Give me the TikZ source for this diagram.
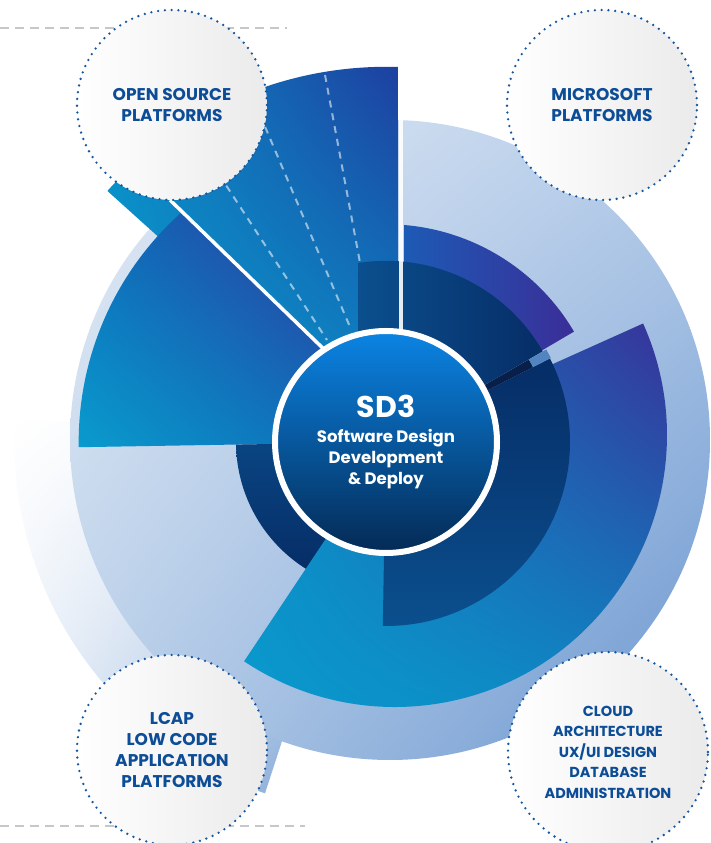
\documentclass[tikz,border=0pt]{standalone}
\usepackage{fontspec}
\setmainfont{Poppins}
\usetikzlibrary{positioning,shadings}

\definecolor{labelblue}{HTML}{0D4D97}
\definecolor{dotblue}{HTML}{1456A0}
\definecolor{cyanA}{HTML}{0A9BCD}
\definecolor{cyanB}{HTML}{0A8CC6}
\definecolor{blueA}{HTML}{0A6FBB}
\definecolor{indigoA}{HTML}{1E3FA0}
\definecolor{indigoB}{HTML}{3A2E98}
\definecolor{midblue}{HTML}{1A5FB8}
\definecolor{navyA}{HTML}{062D66}
\definecolor{navyB}{HTML}{0B4F8E}
\definecolor{navyC}{HTML}{081F4A}
\definecolor{paleA}{HTML}{E4ECF6}
\definecolor{paleB}{HTML}{B5CCE9}
\definecolor{paleC}{HTML}{B9CFE9}
\definecolor{paleD}{HTML}{6A96CF}
\definecolor{hubtop}{HTML}{0B84E4}
\definecolor{hubmid}{HTML}{0867C4}
\definecolor{hubbot}{HTML}{042A55}

\begin{document}
\begin{tikzpicture}[x=1pt,y=1pt,
% Label circles
    platform/.style={circle,draw=dotblue,line width=2.6pt,
		dash pattern=on 0pt off 6.8pt,line cap=round,
		left color=white,right color=black!8,minimum size=190pt,
		inner sep=0pt,text=labelblue,align=center,
		font=\bfseries\fontsize{17}{21}\selectfont},
% Centre hub
    hub/.style={circle,draw=white,line width=6pt,minimum size=222pt,
		top color=hubtop,middle color=hubmid,bottom color=hubbot,
		text=white,align=center,font=\bfseries\fontsize{16.5}{21}\selectfont},
    gapline/.style={white,line width=3.5pt},
    dashline/.style={white,opacity=.55,line width=2pt,dash pattern=on 7pt off 6pt},
    rule/.style={black!22,line width=1.5pt,dash pattern=on 9pt off 6pt},
    quad/.style={shading=bilinear interpolation}
    ]
   \useasboundingbox (0,0) rectangle (711,843);
   \clip (0,0) rectangle (711,843);
   \fill[white] (0,0) rectangle (711,843);
   \coordinate (C) at (386,401);
   \coordinate (Cb) at (395,408);
   \coordinate (Cl) at (390,403);

%%% Guide rules
   \coordinate (r1a) at (0,815);  \coordinate (r1b) at (287,815);
   \coordinate (r2a) at (0,17);   \coordinate (r2b) at (305,17);
   \draw[rule] (r1a) -- (r1b);
   \draw[rule] (r2a) -- (r2b);

%%% Pale background rings
   \shade[quad,upper left=white,upper right=paleA!60,lower left=paleA!70,lower right=paleD]
       (386,421) -- (15,421) arc[start angle=176.9,end angle=251,radius=371.5] -- cycle;
   \shade[quad,upper left=paleA,upper right=paleB,lower left=paleC,lower right=paleD]
       (Cl) circle[radius=320];

%%% Open source wedge
   \shade[quad,upper left=cyanB,upper right=indigoA,lower left=cyanA,lower right=cyanB]
       (398,401) -- (398,776) arc[start angle=88.2,end angle=138,radius=375.2] -- (C) -- cycle;
   \draw[dashline] (325,768) -- (372,516);
   \draw[dashline] (255,740) -- (350,516);
   \draw[dashline] (205,690) -- (327,503);

%%% Left wedge
   \shade[quad,upper left=blueA,upper right=indigoB,lower left=cyanA,lower right=blueA!80!indigoA]
       (335,483) -- (182,631) arc[start angle=131.6,end angle=181,radius=307.4] -- (C) -- cycle;
   \shade[top color=navyB!70!navyA,bottom color=navyA]
       (C) -- ++(181:150) arc[start angle=181,end angle=240,radius=150] -- cycle;

%%% Lower right wedge
   \shade[quad,upper left=cyanB,upper right=indigoB,lower left=cyanA,lower right=cyanB]
       (Cb) -- ++(-123.7:272) arc[start angle=-123.7,end angle=24.2,radius=272] -- cycle;
   \shade[top color=navyA,bottom color=navyB]
       (C) -- ++(-91:184) arc[start angle=-91,end angle=27,radius=184] -- cycle;

%%% Upper right wedge
   \shade[quad,upper left=midblue,upper right=indigoB,lower left=midblue,lower right=indigoB]
       (404,401) -- (404,618) arc[start angle=85.3,end angle=30.5,radius=218] -- (C) -- cycle;
   \shade[left color=navyB,right color=navyA]
       (358,401) -- (358,580) arc[start angle=98.9,end angle=30,radius=181] -- (C) -- cycle;
   \fill[navyC] (C) -- ++(27:165) arc[start angle=27,end angle=30,radius=165] -- cycle;
   \fill[paleD!75!navyB] (C) ++(27:165) arc[start angle=27,end angle=30,radius=165]
       -- ++(30:20) arc[start angle=30,end angle=27,radius=185] -- cycle;

%%% Separators
   \coordinate (v1) at (401,788);  \coordinate (v2) at (401,470);
   \coordinate (d1) at (170,643);  \coordinate (d2) at (335,483);
   \draw[gapline,opacity=.9] (v1) -- (v2);
   \draw[gapline] (d1) -- (d2);

%%% Hub and platforms
   \node[hub] (sd3) at (C) {{\fontsize{30}{34}\selectfont SD3}\\[4pt]
       Software Design\\ Development\\ \& Deploy};
   \node[platform] (open) at (172,738) {OPEN SOURCE\\ PLATFORMS};
   \node[platform] (ms) at (602,738) {MICROSOFT\\ PLATFORMS};
   \node[platform] (lcap) at (172,93) {LCAP\\ LOW CODE\\ APPLICATION\\ PLATFORMS};
   \node[platform,minimum size=200pt,font=\bfseries\fontsize{14.5}{20.5}\selectfont]
       (cloud) at (608,91) {CLOUD\\ ARCHITECTURE\\ UX/UI DESIGN\\ DATABASE\\ ADMINISTRATION};
\end{tikzpicture}
\end{document}
